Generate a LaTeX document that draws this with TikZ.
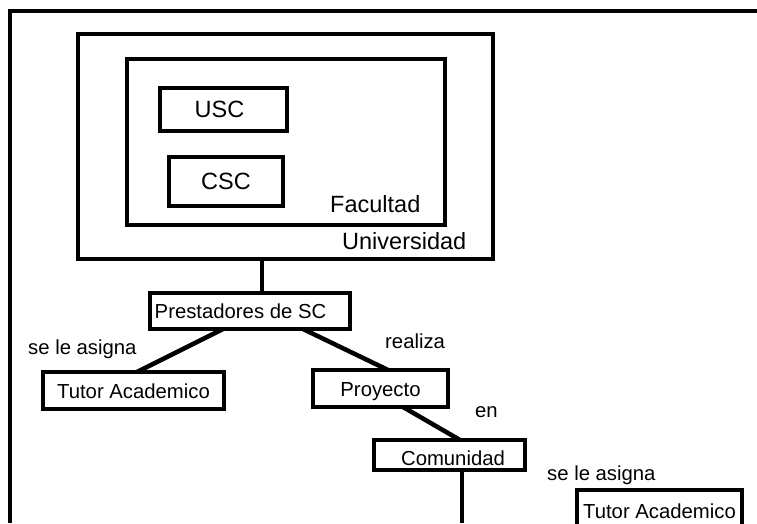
\documentclass[tikz,border=0pt]{standalone}
\usepackage{fontspec}
\setmainfont{Liberation Sans}
\newcommand\bigfnt{\fontsize{23.5}{28}\selectfont}
\newcommand\smallfnt{\fontsize{20.3}{24}\selectfont}
\begin{document}
\begin{tikzpicture}[x=1pt,y=-1pt,
  box/.style={draw, line width=4.5pt, inner sep=0pt, outer sep=0pt},
  bigbox/.style={box, font=\bigfnt, text height=16.8pt, text depth=0pt},
  smallbox/.style={box, font=\smallfnt, text height=14.5pt, text depth=0pt},
  biglbl/.style={inner sep=0pt, anchor=base west, font=\bigfnt},
  smalllbl/.style={inner sep=0pt, anchor=base west, font=\smallfnt},
  conn/.style={line width=4.5pt},
  frame/.style={line width=4.2pt}]
\useasboundingbox (0,0) rectangle (757,523);
\clip (0,0) rectangle (757,523);
% outer frame
\draw[frame] (10,523) -- (10,11) -- (757,11);
% nested containers
\node[box, minimum width=415pt, minimum height=225pt] (univ) at (285.5,146.5) {};
\node[box, minimum width=318pt, minimum height=166pt] (fac) at (286,142) {};
\node[bigbox, minimum width=127pt, minimum height=43pt] (usc) at (223.5,109.5) {\hspace*{-8pt}USC};
\node[bigbox, minimum width=114pt, minimum height=49pt] (csc) at (226,181.5) {CSC};
\node[biglbl] (lblfac) at (330,212) {Facultad};
\node[biglbl] (lbluniv) at (342,249) {Universidad};
% lower boxes
\node[smallbox, minimum width=200pt, minimum height=36pt] (prest) at (250,311) {\hspace*{-19pt}Prestadores de SC};
\node[smallbox, minimum width=181pt, minimum height=37pt, text height=16.5pt] (tutorA) at (133.5,390.5) {Tutor Academico};
\node[smallbox, minimum width=135pt, minimum height=37pt, text height=16.5pt] (proy) at (380.5,388.5) {Proyecto};
\node[smallbox, minimum width=151pt, minimum height=30pt, text height=20.5pt] (com) at (449.5,455) {\hspace*{7pt}Comunidad};
\node[smallbox, minimum width=165pt, minimum height=42pt] (tutorB) at (659.5,511) {Tutor Academico};
% labels
\node[smalllbl] (asigA) at (28,354) {se le asigna};
\node[smalllbl] (realiza) at (385,348) {realiza};
\node[smalllbl] (en) at (475,417) {en};
\node[smalllbl] (asigB) at (547,480) {se le asigna};
% connectors
\draw[conn] ([xshift=12pt]prest.north) -- ([xshift=12pt]prest.north |- univ.south);
\draw[conn] ([xshift=-27pt]prest.south) -- ([xshift=3.5pt]tutorA.north);
\draw[conn] ([xshift=53pt]prest.south) -- ([xshift=7.5pt]proy.north);
\draw[conn] ([xshift=22.5pt]proy.south) -- ([xshift=10.5pt]com.north);
\coordinate (comEnd) at (462,523);
\draw[conn] ([xshift=12.5pt]com.south) -- (comEnd);
\end{tikzpicture}
\end{document}
